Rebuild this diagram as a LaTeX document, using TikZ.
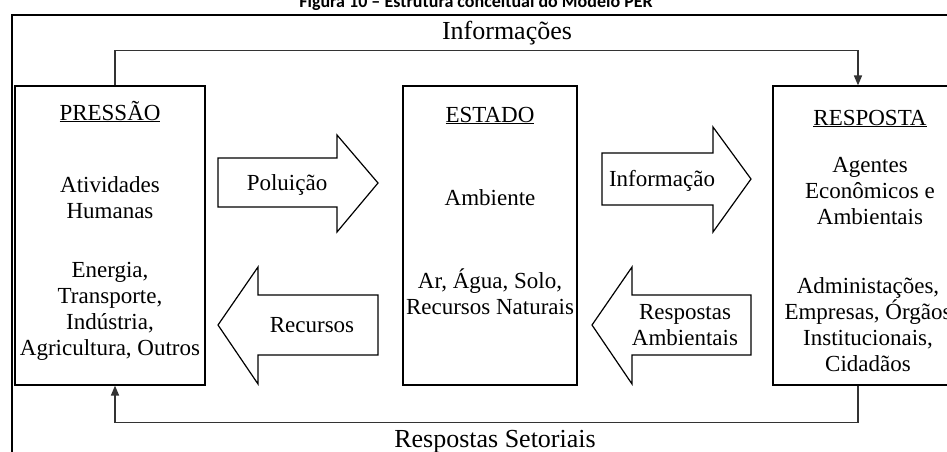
\documentclass[tikz,border=0pt]{standalone}
\usepackage{fontspec}
\setmainfont{Liberation Serif}
\newfontfamily\titlefont{Carlito}
\usetikzlibrary{arrows.meta}

\tikzset{
  bloco/.style={draw, line width=1.2pt, minimum width=#1, minimum height=299, inner sep=0pt},
  seta/.style={draw, line width=1.2pt, line join=miter},
  conector/.style={draw=black!80, line width=1.6pt, -{Triangle[length=10pt,width=8pt]}},
  txt/.style={font=\fontsize{23}{26}\selectfont, align=center, inner sep=0pt, anchor=base},
  rotulo/.style={font=\fontsize{26}{30}\selectfont, inner sep=0pt, anchor=base}
}

\begin{document}
\begin{tikzpicture}[x=1pt,y=-1pt]
  \useasboundingbox (0,0) rectangle (947,451);
  \node[font=\titlefont\bfseries\fontsize{18}{20}\selectfont, inner sep=0pt, anchor=base] (titulo) at (476,7) {Figura 10 – Estrutura conceitual do Modelo PER};
  \draw[line width=2pt] (12,460) -- (12,15) -- (960,15);

  % caixas
  \node[bloco=190] (pressao) at (110,235.5) {};
  \node[bloco=174] (estado) at (490,235.5) {};
  \node[bloco=190] (resposta) at (868,235.5) {};

  \node[txt] (pressaoT) at (110,120) {\underline{PRESSÃO}};
  \node[txt] (atividades) at (110,218) {Atividades\\Humanas};
  \node[txt] (setores) at (110,355) {Energia,\\Transporte,\\Indústria,\\Agricultura, Outros};

  \node[txt] (estadoT) at (490,122) {\underline{ESTADO}};
  \node[txt] (ambiente) at (490,205) {Ambiente};
  \node[txt] (recursosN) at (490,314) {Ar, Água, Solo,\\Recursos Naturais};

  \node[txt] (respostaT) at (870,125) {\underline{RESPOSTA}};
  \node[txt] (agentes) at (870,224) {Agentes\\Econômicos e\\Ambientais};
  \node[txt] (orgaos) at (868,371) {Administações,\\Empresas, Órgãos\\Institucionais,\\Cidadãos};

  % setas largas
  \draw[seta] (218,158) -- (337,158) -- (337,135) -- (378,183) -- (337,232) -- (337,207) -- (218,207) -- cycle;
  \draw[seta] (602,153) -- (713,153) -- (713,127) -- (751,179) -- (713,232) -- (713,205) -- (602,205) -- cycle;
  \draw[seta] (378,295) -- (258,295) -- (258,267) -- (218,325) -- (258,384) -- (258,355) -- (378,355) -- cycle;
  \draw[seta] (751,295) -- (632,295) -- (632,267) -- (592,325) -- (632,384) -- (632,355) -- (751,355) -- cycle;
  \node[txt] (poluicao) at (287,190) {Poluição};
  \node[txt] (informacao) at (662,186) {Informação};
  \node[txt] (recursos) at (312,332) {Recursos};
  \node[txt] (respAmb) at (685,345) {Respostas\\Ambientais};

  % ligacoes
  \draw[conector] ([xshift=5]pressao.north) -- ++(0,-35) -| ([xshift=-10]resposta.north);
  \draw[conector] ([xshift=-10]resposta.south) -- ++(0,37) -| ([xshift=5]pressao.south);
  \node[rotulo] (informacoes) at (507,39) {Informações};
  \node[rotulo] (setoriais) at (495,447) {Respostas Setoriais};
\end{tikzpicture}
\end{document}
